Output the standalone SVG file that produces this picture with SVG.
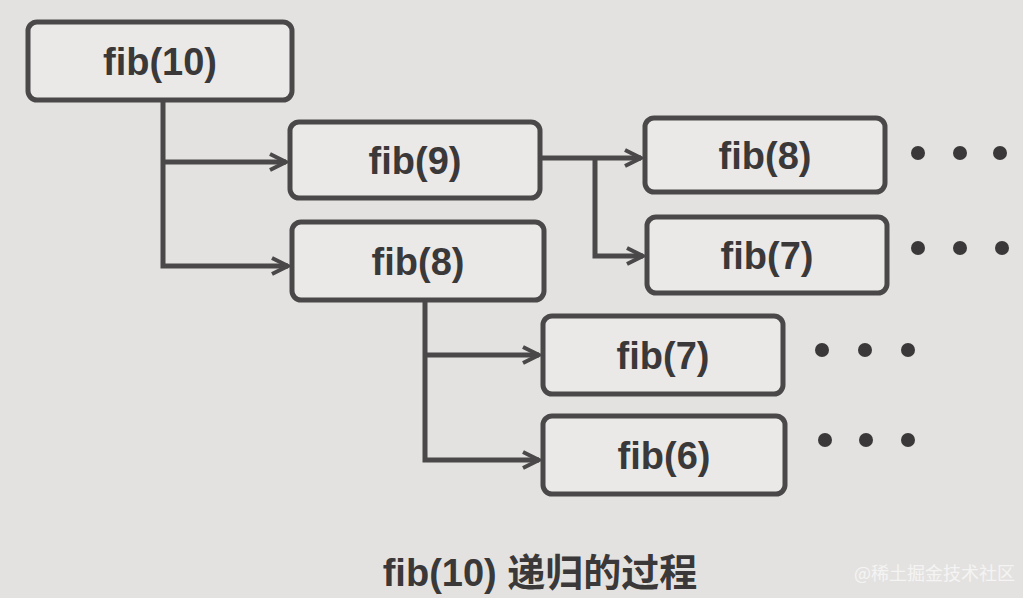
<svg xmlns="http://www.w3.org/2000/svg" width="1023" height="598" viewBox="0 0 1023 598">
<defs>
<style>
.box{fill:#ebe9e7;stroke:#4a4848;stroke-width:5}
.lbl{font-family:"Liberation Sans",Arial,sans-serif;font-size:38px;font-weight:bold;fill:#3a3838;text-anchor:middle;dominant-baseline:central}
.ln{fill:none;stroke:#4a4848;stroke-width:5}
.dot{fill:#3a3838}
</style>
<marker id="ah" viewBox="0 0 10 10" refX="9" refY="5" markerWidth="4" markerHeight="4" orient="auto" markerUnits="strokeWidth">
<path d="M1,1 L9,5 L1,9" fill="none" stroke="#4a4848" stroke-width="2"/>
</marker>
</defs>
<rect width="1023" height="598" fill="#e4e2e0"/>
<g id="connectors">
<path class="ln" d="M163,100 V266 H288" marker-end="url(#ah)"/>
<path class="ln" d="M163,162 H286" marker-end="url(#ah)"/>
<path class="ln" d="M540,158 H641" marker-end="url(#ah)"/>
<path class="ln" d="M595,158 V256 H643" marker-end="url(#ah)"/>
<path class="ln" d="M425,300 V460 H539" marker-end="url(#ah)"/>
<path class="ln" d="M425,355 H539" marker-end="url(#ah)"/>
</g>
<g id="n10"><rect class="box" x="28" y="22" width="264" height="78" rx="9"/><text class="lbl" x="160" y="62">fib(10)</text></g>
<g id="n9"><rect class="box" x="290" y="122" width="250" height="76" rx="9"/><text class="lbl" x="415" y="161">fib(9)</text></g>
<g id="n8a"><rect class="box" x="292" y="222" width="252" height="78" rx="9"/><text class="lbl" x="418" y="262">fib(8)</text></g>
<g id="n8b"><rect class="box" x="645" y="118" width="240" height="74" rx="9"/><text class="lbl" x="765" y="156">fib(8)</text></g>
<g id="n7a"><rect class="box" x="647" y="217" width="240" height="76" rx="9"/><text class="lbl" x="767" y="256">fib(7)</text></g>
<g id="n7b"><rect class="box" x="543" y="316" width="240" height="78" rx="9"/><text class="lbl" x="663" y="356">fib(7)</text></g>
<g id="n6"><rect class="box" x="543" y="416" width="242" height="78" rx="9"/><text class="lbl" x="664" y="456">fib(6)</text></g>
<g id="dots">
<circle class="dot" cx="918" cy="153" r="7"/><circle class="dot" cx="960" cy="153" r="7"/><circle class="dot" cx="1000" cy="153" r="7"/>
<circle class="dot" cx="918" cy="248" r="7"/><circle class="dot" cx="960" cy="248" r="7"/><circle class="dot" cx="1002" cy="248" r="7"/>
<circle class="dot" cx="822" cy="350" r="7"/><circle class="dot" cx="865" cy="350" r="7"/><circle class="dot" cx="908" cy="350" r="7"/>
<circle class="dot" cx="825" cy="440" r="7"/><circle class="dot" cx="866" cy="440" r="7"/><circle class="dot" cx="908" cy="440" r="7"/>
</g>
<text x="540" y="573" font-family="'Liberation Sans','Noto Sans CJK SC',sans-serif" font-size="38" font-weight="bold" fill="#3a3838" text-anchor="middle" dominant-baseline="central">fib(10) 递归的过程</text>
<text x="1015" y="572" font-family="'Noto Sans CJK SC',sans-serif" font-size="18" fill="#f4f4f4" text-anchor="end" dominant-baseline="central">@稀土掘金技术社区</text>
</svg>
